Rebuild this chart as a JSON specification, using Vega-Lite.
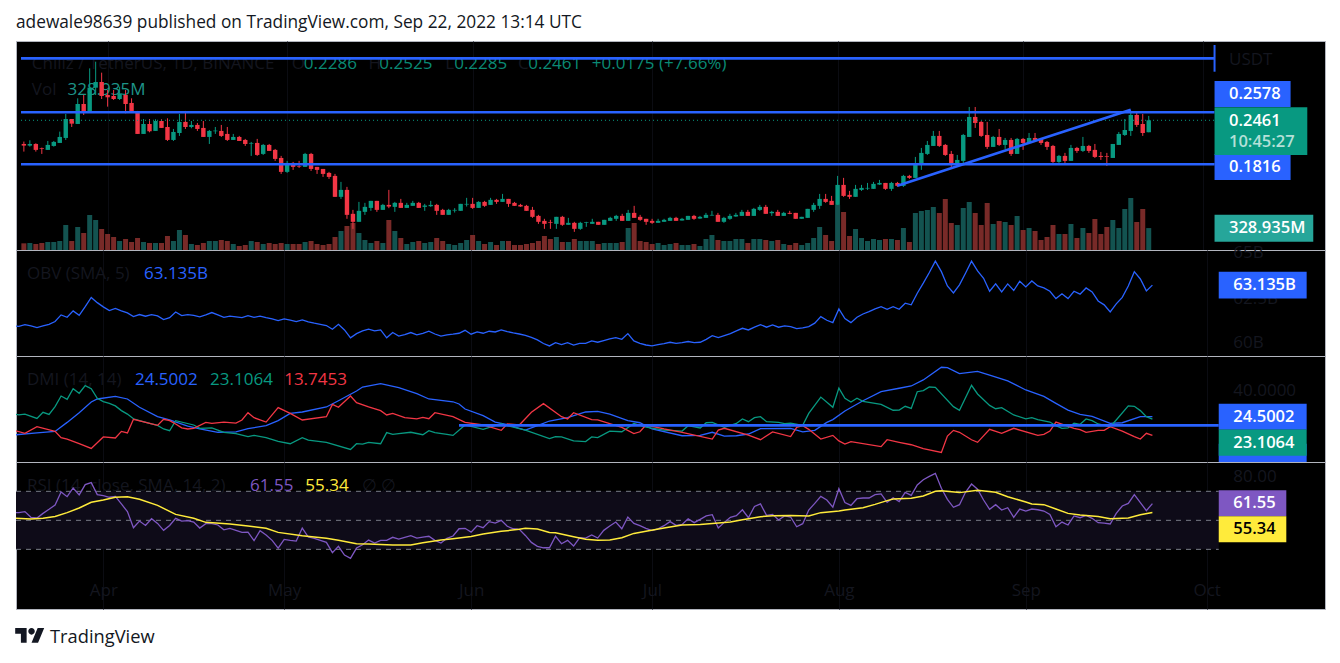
{
"$schema":"https://vega.github.io/schema/vega-lite/v6.json",
"background":"#ffffff",
"padding":{"left":15,"top":0,"right":16,"bottom":0},
"spacing":0,
"bounds":"flush",
"config":{"text":{"font":"Open Sans","fontSize":17},"axis":{"labelFont":"Open Sans"}},
"datasets":{
"daily":[
{"d":"2022-03-17","b":60.91,"r":55.3},
{"d":"2022-03-18","o":0.2114,"h":0.2149,"l":0.2002,"c":0.2090,"v":100,"b":60.89,"r":55.3},
{"d":"2022-03-19","o":0.2090,"h":0.2168,"l":0.2075,"c":0.2114,"v":105,"b":60.98,"r":56.0},
{"d":"2022-03-20","o":0.2114,"h":0.2124,"l":0.2002,"c":0.2027,"v":90,"b":60.91,"r":52.1},
{"d":"2022-03-21","o":0.2051,"h":0.2061,"l":0.1968,"c":0.2041,"v":105,"b":60.82,"r":51.6},
{"d":"2022-03-22","o":0.2027,"h":0.2158,"l":0.2027,"c":0.2100,"v":120,"b":60.91,"r":54.8},
{"d":"2022-03-23","o":0.2085,"h":0.2158,"l":0.2075,"c":0.2144,"v":120,"b":61.00,"r":57.6},
{"d":"2022-03-24","o":0.2129,"h":0.2295,"l":0.2129,"c":0.2217,"v":135,"b":61.15,"r":60.6},
{"d":"2022-03-25","o":0.2202,"h":0.2554,"l":0.2173,"c":0.2480,"v":375,"b":61.51,"r":69.5},
{"d":"2022-03-26","o":0.2480,"h":0.2480,"l":0.2363,"c":0.2412,"v":135,"b":61.38,"r":66.3},
{"d":"2022-03-27","o":0.2407,"h":0.2783,"l":0.2407,"c":0.2700,"v":345,"b":61.73,"r":72.3},
{"d":"2022-03-28","o":0.2700,"h":0.2832,"l":0.2539,"c":0.2588,"v":255,"b":61.49,"r":67.5},
{"d":"2022-03-29","o":0.2588,"h":0.3222,"l":0.2588,"c":0.2939,"v":525,"b":61.96,"r":74.6},
{"d":"2022-03-30","o":0.2939,"h":0.3320,"l":0.2832,"c":0.3022,"v":450,"b":62.46,"r":76.0},
{"d":"2022-03-31","o":0.3022,"h":0.3159,"l":0.2773,"c":0.2817,"v":315,"b":62.18,"r":67.7},
{"d":"2022-04-01","o":0.2832,"h":0.2905,"l":0.2661,"c":0.2798,"v":240,"b":61.95,"r":67.0},
{"d":"2022-04-02","o":0.2817,"h":0.2905,"l":0.2759,"c":0.2773,"v":195,"b":61.75,"r":65.9},
{"d":"2022-04-03","o":0.2773,"h":0.2954,"l":0.2759,"c":0.2856,"v":135,"b":61.86,"r":66.5},
{"d":"2022-04-04","o":0.2832,"h":0.2905,"l":0.2563,"c":0.2700,"v":165,"b":61.73,"r":61.3},
{"d":"2022-04-05","o":0.2715,"h":0.2783,"l":0.2588,"c":0.2588,"v":120,"b":61.62,"r":56.0},
{"d":"2022-04-06","o":0.2593,"h":0.2598,"l":0.2261,"c":0.2261,"v":180,"b":61.42,"r":44.9},
{"d":"2022-04-07","o":0.2261,"h":0.2480,"l":0.2261,"c":0.2407,"v":120,"b":61.53,"r":49.5},
{"d":"2022-04-08","o":0.2407,"h":0.2480,"l":0.2285,"c":0.2300,"v":105,"b":61.44,"r":46.5},
{"d":"2022-04-09","o":0.2305,"h":0.2476,"l":0.2305,"c":0.2451,"v":105,"b":61.53,"r":51.1},
{"d":"2022-04-10","o":0.2451,"h":0.2476,"l":0.2349,"c":0.2349,"v":105,"b":61.46,"r":47.9},
{"d":"2022-04-11","o":0.2363,"h":0.2490,"l":0.2158,"c":0.2173,"v":210,"b":61.26,"r":43.1},
{"d":"2022-04-12","o":0.2173,"h":0.2334,"l":0.2158,"c":0.2290,"v":135,"b":61.36,"r":46.5},
{"d":"2022-04-13","o":0.2275,"h":0.2554,"l":0.2232,"c":0.2437,"v":300,"b":61.67,"r":51.4},
{"d":"2022-04-14","o":0.2437,"h":0.2598,"l":0.2334,"c":0.2363,"v":225,"b":61.47,"r":49.5},
{"d":"2022-04-15","o":0.2363,"h":0.2451,"l":0.2344,"c":0.2393,"v":90,"b":61.53,"r":49.8},
{"d":"2022-04-16","o":0.2393,"h":0.2422,"l":0.2305,"c":0.2334,"v":75,"b":61.49,"r":48.8},
{"d":"2022-04-17","o":0.2349,"h":0.2451,"l":0.2217,"c":0.2217,"v":105,"b":61.40,"r":44.7},
{"d":"2022-04-18","o":0.2217,"h":0.2319,"l":0.2114,"c":0.2305,"v":135,"b":61.51,"r":47.7},
{"d":"2022-04-19","o":0.2300,"h":0.2363,"l":0.2261,"c":0.2310,"v":135,"b":61.64,"r":47.7},
{"d":"2022-04-20","o":0.2305,"h":0.2393,"l":0.2217,"c":0.2232,"v":150,"b":61.51,"r":46.8},
{"d":"2022-04-21","o":0.2261,"h":0.2363,"l":0.2158,"c":0.2173,"v":135,"b":61.38,"r":43.5},
{"d":"2022-04-22","o":0.2173,"h":0.2261,"l":0.2173,"c":0.2217,"v":90,"b":61.44,"r":44.5},
{"d":"2022-04-23","o":0.2217,"h":0.2232,"l":0.2158,"c":0.2158,"v":60,"b":61.40,"r":43.1},
{"d":"2022-04-24","o":0.2173,"h":0.2188,"l":0.2085,"c":0.2114,"v":75,"b":61.36,"r":41.7},
{"d":"2022-04-25","o":0.2119,"h":0.2144,"l":0.1939,"c":0.2129,"v":135,"b":61.47,"r":41.9},
{"d":"2022-04-26","o":0.2129,"h":0.2188,"l":0.1939,"c":0.1953,"v":120,"b":61.38,"r":36.0},
{"d":"2022-04-27","o":0.1968,"h":0.2114,"l":0.1953,"c":0.2100,"v":90,"b":61.44,"r":42.9},
{"d":"2022-04-28","o":0.2100,"h":0.2114,"l":0.2012,"c":0.2012,"v":105,"b":61.36,"r":39.9},
{"d":"2022-04-29","o":0.2027,"h":0.2041,"l":0.1866,"c":0.1895,"v":90,"b":61.29,"r":36.2},
{"d":"2022-04-30","o":0.1909,"h":0.1939,"l":0.1675,"c":0.1705,"v":105,"b":61.20,"r":30.9},
{"d":"2022-05-01","o":0.1705,"h":0.1866,"l":0.1690,"c":0.1836,"v":90,"b":61.29,"r":36.9},
{"d":"2022-05-02","o":0.1836,"h":0.1851,"l":0.1734,"c":0.1778,"v":90,"b":61.22,"r":36.2},
{"d":"2022-05-03","o":0.1787,"h":0.1866,"l":0.1763,"c":0.1778,"v":90,"b":61.15,"r":35.7},
{"d":"2022-05-04","o":0.1778,"h":0.1983,"l":0.1778,"c":0.1968,"v":120,"b":61.24,"r":44.7},
{"d":"2022-05-05","o":0.1968,"h":0.1983,"l":0.1719,"c":0.1748,"v":135,"b":61.13,"r":38.5},
{"d":"2022-05-06","o":0.1778,"h":0.1778,"l":0.1675,"c":0.1734,"v":90,"b":61.06,"r":37.6},
{"d":"2022-05-07","o":0.1748,"h":0.1748,"l":0.1631,"c":0.1675,"v":75,"b":61.00,"r":36.2},
{"d":"2022-05-08","o":0.1690,"h":0.1705,"l":0.1602,"c":0.1631,"v":90,"b":60.93,"r":34.8},
{"d":"2022-05-09","o":0.1646,"h":0.1675,"l":0.1339,"c":0.1339,"v":195,"b":60.73,"r":27.7},
{"d":"2022-05-10","o":0.1339,"h":0.1558,"l":0.1309,"c":0.1441,"v":285,"b":61.00,"r":32.1},
{"d":"2022-05-11","o":0.1441,"h":0.1485,"l":0.1017,"c":0.1075,"v":360,"b":60.69,"r":26.1},
{"d":"2022-05-12","o":0.1090,"h":0.1148,"l":0.0870,"c":0.0973,"v":405,"b":60.26,"r":23.8},
{"d":"2022-05-13","o":0.0973,"h":0.1265,"l":0.0973,"c":0.1134,"v":255,"b":60.49,"r":30.9},
{"d":"2022-05-14","o":0.1119,"h":0.1251,"l":0.1075,"c":0.1192,"v":150,"b":60.64,"r":33.2},
{"d":"2022-05-15","o":0.1177,"h":0.1280,"l":0.1134,"c":0.1280,"v":105,"b":60.73,"r":36.4},
{"d":"2022-05-16","o":0.1280,"h":0.1280,"l":0.1119,"c":0.1148,"v":135,"b":60.64,"r":34.4},
{"d":"2022-05-17","o":0.1148,"h":0.1236,"l":0.1148,"c":0.1221,"v":105,"b":60.69,"r":36.2},
{"d":"2022-05-18","o":0.1221,"h":0.1441,"l":0.1173,"c":0.1197,"v":450,"b":60.26,"r":36.2},
{"d":"2022-05-19","o":0.1192,"h":0.1265,"l":0.1119,"c":0.1251,"v":285,"b":60.55,"r":38.3},
{"d":"2022-05-20","o":0.1251,"h":0.1309,"l":0.1177,"c":0.1177,"v":180,"b":60.36,"r":37.1},
{"d":"2022-05-21","o":0.1177,"h":0.1251,"l":0.1177,"c":0.1221,"v":90,"b":60.44,"r":38.3},
{"d":"2022-05-22","o":0.1207,"h":0.1280,"l":0.1207,"c":0.1251,"v":120,"b":60.55,"r":39.4},
{"d":"2022-05-23","o":0.1251,"h":0.1265,"l":0.1177,"c":0.1177,"v":135,"b":60.42,"r":37.8},
{"d":"2022-05-24","o":0.1192,"h":0.1236,"l":0.1134,"c":0.1212,"v":105,"b":60.51,"r":38.5},
{"d":"2022-05-25","o":0.1202,"h":0.1280,"l":0.1192,"c":0.1221,"v":120,"b":60.62,"r":39.0},
{"d":"2022-05-26","o":0.1221,"h":0.1236,"l":0.1075,"c":0.1134,"v":180,"b":60.47,"r":36.2},
{"d":"2022-05-27","o":0.1148,"h":0.1163,"l":0.1075,"c":0.1075,"v":135,"b":60.35,"r":34.4},
{"d":"2022-05-28","o":0.1075,"h":0.1163,"l":0.1075,"c":0.1148,"v":90,"b":60.42,"r":37.6},
{"d":"2022-05-29","o":0.1138,"h":0.1173,"l":0.1109,"c":0.1148,"v":75,"b":60.46,"r":39.2},
{"d":"2022-05-30","o":0.1134,"h":0.1236,"l":0.1134,"c":0.1236,"v":105,"b":60.51,"r":44.2},
{"d":"2022-05-31","o":0.1226,"h":0.1324,"l":0.1197,"c":0.1236,"v":150,"b":60.67,"r":44.5},
{"d":"2022-06-01","o":0.1236,"h":0.1324,"l":0.1163,"c":0.1177,"v":225,"b":60.46,"r":41.9},
{"d":"2022-06-02","o":0.1177,"h":0.1275,"l":0.1177,"c":0.1265,"v":135,"b":60.58,"r":46.3},
{"d":"2022-06-03","o":0.1265,"h":0.1280,"l":0.1192,"c":0.1207,"v":90,"b":60.51,"r":44.9},
{"d":"2022-06-04","o":0.1221,"h":0.1324,"l":0.1221,"c":0.1295,"v":120,"b":60.62,"r":49.1},
{"d":"2022-06-05","o":0.1295,"h":0.1309,"l":0.1236,"c":0.1265,"v":75,"b":60.58,"r":48.1},
{"d":"2022-06-06","o":0.1265,"h":0.1382,"l":0.1265,"c":0.1309,"v":135,"b":60.69,"r":50.0},
{"d":"2022-06-07","o":0.1309,"h":0.1309,"l":0.1192,"c":0.1236,"v":135,"b":60.60,"r":45.9},
{"d":"2022-06-08","o":0.1251,"h":0.1265,"l":0.1207,"c":0.1207,"v":75,"b":60.53,"r":44.2},
{"d":"2022-06-09","o":0.1221,"h":0.1236,"l":0.1192,"c":0.1197,"v":75,"b":60.47,"r":43.8},
{"d":"2022-06-10","o":0.1207,"h":0.1221,"l":0.1134,"c":0.1134,"v":90,"b":60.40,"r":39.6},
{"d":"2022-06-11","o":0.1148,"h":0.1192,"l":0.1031,"c":0.1046,"v":105,"b":60.29,"r":34.8},
{"d":"2022-06-12","o":0.1060,"h":0.1075,"l":0.0943,"c":0.0973,"v":135,"b":60.15,"r":32.1},
{"d":"2022-06-13","o":0.0987,"h":0.1017,"l":0.0870,"c":0.0943,"v":210,"b":59.95,"r":31.1},
{"d":"2022-06-14","o":0.0968,"h":0.1002,"l":0.0870,"c":0.0958,"v":165,"b":59.82,"r":31.1},
{"d":"2022-06-15","o":0.0943,"h":0.1046,"l":0.0870,"c":0.1046,"v":195,"b":60.00,"r":39.0},
{"d":"2022-06-16","o":0.1046,"h":0.1060,"l":0.0914,"c":0.0929,"v":120,"b":59.89,"r":33.9},
{"d":"2022-06-17","o":0.0929,"h":0.1031,"l":0.0929,"c":0.0958,"v":120,"b":60.00,"r":36.2},
{"d":"2022-06-18","o":0.0958,"h":0.0973,"l":0.0826,"c":0.0870,"v":165,"b":59.86,"r":32.3},
{"d":"2022-06-19","o":0.0870,"h":0.0973,"l":0.0855,"c":0.0958,"v":135,"b":59.96,"r":38.0},
{"d":"2022-06-20","o":0.0958,"h":0.0973,"l":0.0899,"c":0.0968,"v":135,"b":59.96,"r":37.8},
{"d":"2022-06-21","o":0.0943,"h":0.1017,"l":0.0943,"c":0.0973,"v":135,"b":60.09,"r":39.9},
{"d":"2022-06-22","o":0.0973,"h":0.0973,"l":0.0929,"c":0.0929,"v":90,"b":60.02,"r":37.8},
{"d":"2022-06-23","o":0.0929,"h":0.1002,"l":0.0929,"c":0.1002,"v":105,"b":60.11,"r":43.1},
{"d":"2022-06-24","o":0.0987,"h":0.1046,"l":0.0987,"c":0.1031,"v":105,"b":60.20,"r":46.1},
{"d":"2022-06-25","o":0.1017,"h":0.1075,"l":0.0987,"c":0.1060,"v":105,"b":60.27,"r":48.8},
{"d":"2022-06-26","o":0.1060,"h":0.1090,"l":0.0987,"c":0.0987,"v":120,"b":60.18,"r":44.2},
{"d":"2022-06-27","o":0.0987,"h":0.1148,"l":0.0987,"c":0.1104,"v":330,"b":60.49,"r":52.3},
{"d":"2022-06-28","o":0.1104,"h":0.1207,"l":0.1031,"c":0.1031,"v":405,"b":60.09,"r":47.9},
{"d":"2022-06-29","o":0.1046,"h":0.1075,"l":0.0987,"c":0.1002,"v":135,"b":59.96,"r":46.3},
{"d":"2022-06-30","o":0.1017,"h":0.1017,"l":0.0929,"c":0.0973,"v":120,"b":59.87,"r":44.5},
{"d":"2022-07-01","o":0.0987,"h":0.1017,"l":0.0943,"c":0.0958,"v":90,"b":59.82,"r":42.9},
{"d":"2022-07-02","o":0.0958,"h":0.1017,"l":0.0958,"c":0.0987,"v":105,"b":59.89,"r":44.2},
{"d":"2022-07-03","o":0.0973,"h":0.1017,"l":0.0973,"c":0.1002,"v":75,"b":59.95,"r":46.3},
{"d":"2022-07-04","o":0.0987,"h":0.1046,"l":0.0987,"c":0.1031,"v":90,"b":60.02,"r":49.1},
{"d":"2022-07-05","o":0.1031,"h":0.1046,"l":0.0987,"c":0.0987,"v":105,"b":59.96,"r":46.5},
{"d":"2022-07-06","o":0.0992,"h":0.1031,"l":0.0992,"c":0.1017,"v":75,"b":60.00,"r":47.2},
{"d":"2022-07-07","o":0.1002,"h":0.1060,"l":0.1002,"c":0.1060,"v":75,"b":60.06,"r":51.1},
{"d":"2022-07-08","o":0.1060,"h":0.1075,"l":0.1002,"c":0.1017,"v":90,"b":60.00,"r":48.4},
{"d":"2022-07-09","o":0.1021,"h":0.1060,"l":0.1017,"c":0.1046,"v":60,"b":60.02,"r":50.7},
{"d":"2022-07-10","o":0.1031,"h":0.1104,"l":0.1031,"c":0.1075,"v":165,"b":60.18,"r":53.0},
{"d":"2022-07-11","o":0.1065,"h":0.1134,"l":0.1065,"c":0.1075,"v":225,"b":60.38,"r":53.9},
{"d":"2022-07-12","o":0.1075,"h":0.1104,"l":0.0973,"c":0.0973,"v":150,"b":60.27,"r":44.7},
{"d":"2022-07-13","o":0.0973,"h":0.1046,"l":0.0958,"c":0.1031,"v":135,"b":60.38,"r":48.6},
{"d":"2022-07-14","o":0.1017,"h":0.1090,"l":0.1002,"c":0.1060,"v":135,"b":60.49,"r":52.1},
{"d":"2022-07-15","o":0.1051,"h":0.1104,"l":0.1046,"c":0.1075,"v":165,"b":60.64,"r":53.2},
{"d":"2022-07-16","o":0.1060,"h":0.1148,"l":0.1060,"c":0.1119,"v":165,"b":60.78,"r":57.3},
{"d":"2022-07-17","o":0.1119,"h":0.1148,"l":0.1060,"c":0.1060,"v":105,"b":60.69,"r":51.8},
{"d":"2022-07-18","o":0.1060,"h":0.1177,"l":0.1060,"c":0.1163,"v":165,"b":60.84,"r":59.6},
{"d":"2022-07-19","o":0.1148,"h":0.1221,"l":0.1134,"c":0.1192,"v":165,"b":60.98,"r":61.3},
{"d":"2022-07-20","o":0.1192,"h":0.1221,"l":0.1090,"c":0.1090,"v":150,"b":60.84,"r":53.4},
{"d":"2022-07-21","o":0.1099,"h":0.1134,"l":0.1060,"c":0.1119,"v":135,"b":60.96,"r":54.1},
{"d":"2022-07-22","o":0.1119,"h":0.1148,"l":0.1060,"c":0.1060,"v":150,"b":60.84,"r":50.2},
{"d":"2022-07-23","o":0.1060,"h":0.1119,"l":0.1060,"c":0.1104,"v":90,"b":60.91,"r":53.0},
{"d":"2022-07-24","o":0.1104,"h":0.1134,"l":0.1085,"c":0.1090,"v":75,"b":60.87,"r":52.3},
{"d":"2022-07-25","o":0.1104,"h":0.1104,"l":0.1017,"c":0.1017,"v":105,"b":60.76,"r":45.6},
{"d":"2022-07-26","o":0.1017,"h":0.1046,"l":0.1017,"c":0.1046,"v":75,"b":60.80,"r":47.7},
{"d":"2022-07-27","o":0.1031,"h":0.1163,"l":0.1031,"c":0.1163,"v":105,"b":60.87,"r":57.1},
{"d":"2022-07-28","o":0.1148,"h":0.1251,"l":0.1119,"c":0.1221,"v":180,"b":61.06,"r":61.7},
{"d":"2022-07-29","o":0.1207,"h":0.1382,"l":0.1163,"c":0.1309,"v":345,"b":61.42,"r":66.5},
{"d":"2022-07-30","o":0.1309,"h":0.1382,"l":0.1251,"c":0.1265,"v":225,"b":61.22,"r":64.0},
{"d":"2022-07-31","o":0.1280,"h":0.1353,"l":0.1221,"c":0.1221,"v":135,"b":61.09,"r":59.0},
{"d":"2022-08-01","o":0.1221,"h":0.1646,"l":0.1221,"c":0.1514,"v":675,"b":61.84,"r":71.8},
{"d":"2022-08-02","o":0.1514,"h":0.1617,"l":0.1339,"c":0.1353,"v":570,"b":61.31,"r":62.2},
{"d":"2022-08-03","o":0.1368,"h":0.1426,"l":0.1309,"c":0.1339,"v":210,"b":61.09,"r":60.3},
{"d":"2022-08-04","o":0.1339,"h":0.1514,"l":0.1339,"c":0.1456,"v":315,"b":61.38,"r":64.9},
{"d":"2022-08-05","o":0.1441,"h":0.1514,"l":0.1426,"c":0.1470,"v":180,"b":61.56,"r":65.4},
{"d":"2022-08-06","o":0.1461,"h":0.1543,"l":0.1441,"c":0.1470,"v":135,"b":61.69,"r":65.4},
{"d":"2022-08-07","o":0.1456,"h":0.1558,"l":0.1456,"c":0.1529,"v":165,"b":61.84,"r":67.7},
{"d":"2022-08-08","o":0.1519,"h":0.1587,"l":0.1514,"c":0.1543,"v":150,"b":61.96,"r":68.2},
{"d":"2022-08-09","o":0.1543,"h":0.1543,"l":0.1441,"c":0.1456,"v":165,"b":61.82,"r":62.4},
{"d":"2022-08-10","o":0.1456,"h":0.1558,"l":0.1426,"c":0.1543,"v":165,"b":61.96,"r":65.6},
{"d":"2022-08-11","o":0.1543,"h":0.1558,"l":0.1485,"c":0.1500,"v":150,"b":61.82,"r":62.9},
{"d":"2022-08-12","o":0.1500,"h":0.1661,"l":0.1485,"c":0.1646,"v":330,"b":62.15,"r":69.3},
{"d":"2022-08-13","o":0.1646,"h":0.1661,"l":0.1602,"c":0.1617,"v":120,"b":62.06,"r":67.2},
{"d":"2022-08-14","o":0.1617,"h":0.1924,"l":0.1617,"c":0.1822,"v":555,"b":62.69,"r":74.4},
{"d":"2022-08-15","o":0.1807,"h":0.2056,"l":0.1734,"c":0.1983,"v":585,"b":63.24,"r":78.0},
{"d":"2022-08-16","o":0.1968,"h":0.2158,"l":0.1953,"c":0.2100,"v":600,"b":63.82,"r":80.3},
{"d":"2022-08-17","o":0.2085,"h":0.2305,"l":0.2085,"c":0.2232,"v":645,"b":64.44,"r":82.4},
{"d":"2022-08-18","o":0.2232,"h":0.2305,"l":0.2071,"c":0.2085,"v":555,"b":63.87,"r":72.1},
{"d":"2022-08-19","o":0.2100,"h":0.2114,"l":0.1939,"c":0.1953,"v":765,"b":63.09,"r":64.5},
{"d":"2022-08-20","o":0.1968,"h":0.2012,"l":0.1748,"c":0.1822,"v":405,"b":62.71,"r":59.0},
{"d":"2022-08-21","o":0.1822,"h":0.1953,"l":0.1792,"c":0.1880,"v":375,"b":63.15,"r":60.8},
{"d":"2022-08-22","o":0.1866,"h":0.2261,"l":0.1822,"c":0.2246,"v":630,"b":63.78,"r":69.3},
{"d":"2022-08-23","o":0.2217,"h":0.2656,"l":0.2217,"c":0.2510,"v":720,"b":64.44,"r":75.0},
{"d":"2022-08-24","o":0.2510,"h":0.2656,"l":0.2349,"c":0.2422,"v":555,"b":63.91,"r":71.4},
{"d":"2022-08-25","o":0.2437,"h":0.2451,"l":0.2217,"c":0.2232,"v":375,"b":63.51,"r":64.0},
{"d":"2022-08-26","o":0.2246,"h":0.2437,"l":0.2041,"c":0.2071,"v":705,"b":62.80,"r":57.6},
{"d":"2022-08-27","o":0.2071,"h":0.2232,"l":0.2071,"c":0.2217,"v":390,"b":63.20,"r":60.8},
{"d":"2022-08-28","o":0.2217,"h":0.2334,"l":0.2085,"c":0.2100,"v":435,"b":62.76,"r":57.1},
{"d":"2022-08-29","o":0.2100,"h":0.2202,"l":0.2041,"c":0.2173,"v":420,"b":63.20,"r":58.7},
{"d":"2022-08-30","o":0.2173,"h":0.2202,"l":0.1939,"c":0.1968,"v":375,"b":62.84,"r":52.1},
{"d":"2022-08-31","o":0.1968,"h":0.2202,"l":0.1968,"c":0.2188,"v":510,"b":63.35,"r":57.8},
{"d":"2022-09-01","o":0.2188,"h":0.2202,"l":0.2027,"c":0.2129,"v":300,"b":63.04,"r":56.4},
{"d":"2022-09-02","o":0.2129,"h":0.2275,"l":0.2129,"c":0.2202,"v":330,"b":63.36,"r":57.8},
{"d":"2022-09-03","o":0.2202,"h":0.2275,"l":0.2144,"c":0.2173,"v":285,"b":63.09,"r":57.3},
{"d":"2022-09-04","o":0.2188,"h":0.2202,"l":0.2100,"c":0.2129,"v":150,"b":62.98,"r":56.4},
{"d":"2022-09-05","o":0.2144,"h":0.2158,"l":0.2027,"c":0.2071,"v":195,"b":62.80,"r":54.1},
{"d":"2022-09-06","o":0.2085,"h":0.2100,"l":0.1836,"c":0.1851,"v":375,"b":62.40,"r":45.6},
{"d":"2022-09-07","o":0.1851,"h":0.1953,"l":0.1836,"c":0.1939,"v":240,"b":62.66,"r":48.8},
{"d":"2022-09-08","o":0.1939,"h":0.1983,"l":0.1836,"c":0.1866,"v":240,"b":62.40,"r":46.8},
{"d":"2022-09-09","o":0.1866,"h":0.2100,"l":0.1866,"c":0.2056,"v":390,"b":62.80,"r":53.0},
{"d":"2022-09-10","o":0.2056,"h":0.2071,"l":0.1983,"c":0.2012,"v":180,"b":62.64,"r":51.8},
{"d":"2022-09-11","o":0.2012,"h":0.2217,"l":0.1997,"c":0.2085,"v":330,"b":62.98,"r":53.4},
{"d":"2022-09-12","o":0.2085,"h":0.2100,"l":0.1983,"c":0.2012,"v":255,"b":62.76,"r":51.4},
{"d":"2022-09-13","o":0.2027,"h":0.2114,"l":0.1909,"c":0.1924,"v":465,"b":62.27,"r":48.4},
{"d":"2022-09-14","o":0.1939,"h":0.1997,"l":0.1880,"c":0.1924,"v":240,"b":62.06,"r":48.1},
{"d":"2022-09-15","o":0.1934,"h":0.1983,"l":0.1792,"c":0.1924,"v":345,"b":61.67,"r":47.5},
{"d":"2022-09-16","o":0.1909,"h":0.2114,"l":0.1909,"c":0.2114,"v":450,"b":62.11,"r":54.8},
{"d":"2022-09-17","o":0.2100,"h":0.2290,"l":0.2100,"c":0.2261,"v":330,"b":62.47,"r":59.9},
{"d":"2022-09-18","o":0.2246,"h":0.2480,"l":0.2232,"c":0.2319,"v":615,"b":63.09,"r":61.7},
{"d":"2022-09-19","o":0.2305,"h":0.2598,"l":0.2232,"c":0.2539,"v":780,"b":63.87,"r":67.7},
{"d":"2022-09-20","o":0.2539,"h":0.2583,"l":0.2363,"c":0.2393,"v":420,"b":63.47,"r":62.2},
{"d":"2022-09-21","o":0.2407,"h":0.2554,"l":0.2232,"c":0.2275,"v":615,"b":62.82,"r":56.7},
{"d":"2022-09-22","o":0.2286,"h":0.2525,"l":0.2285,"c":0.2461,"v":328.935,"b":63.135,"r":61.55}
],
"rsima":[
{"d":"2022-03-17","m":51.6},{"d":"2022-03-20","m":50.9},{"d":"2022-03-22","m":51.4},{"d":"2022-03-24","m":52.7},{"d":"2022-03-26","m":55.3},{"d":"2022-03-28","m":58.5},{"d":"2022-03-30","m":62.4},{"d":"2022-04-01","m":64.0},{"d":"2022-04-03","m":65.9},{"d":"2022-04-05","m":66.3},{"d":"2022-04-07","m":64.5},{"d":"2022-04-10","m":60.3},{"d":"2022-04-13","m":54.1},{"d":"2022-04-16","m":51.4},{"d":"2022-04-18","m":48.6},{"d":"2022-04-22","m":47.5},{"d":"2022-04-25","m":46.1},{"d":"2022-04-28","m":44.5},{"d":"2022-04-30","m":41.7},{"d":"2022-05-04","m":39.4},{"d":"2022-05-08","m":37.6},{"d":"2022-05-10","m":36.2},{"d":"2022-05-13","m":33.9},{"d":"2022-05-15","m":33.7},{"d":"2022-05-19","m":33.0},{"d":"2022-05-22","m":33.0},{"d":"2022-05-24","m":34.6},{"d":"2022-05-27","m":36.4},{"d":"2022-05-29","m":37.3},{"d":"2022-06-01","m":38.9},{"d":"2022-06-03","m":40.6},{"d":"2022-06-06","m":42.4},{"d":"2022-06-09","m":43.8},{"d":"2022-06-10","m":44.5},{"d":"2022-06-12","m":44.0},{"d":"2022-06-14","m":41.7},{"d":"2022-06-15","m":41.5},{"d":"2022-06-18","m":38.7},{"d":"2022-06-20","m":36.9},{"d":"2022-06-22","m":36.2},{"d":"2022-06-24","m":36.4},{"d":"2022-06-26","m":38.0},{"d":"2022-06-28","m":41.0},{"d":"2022-06-30","m":42.4},{"d":"2022-07-03","m":44.7},{"d":"2022-07-06","m":46.8},{"d":"2022-07-09","m":47.2},{"d":"2022-07-12","m":48.1},{"d":"2022-07-14","m":48.8},{"d":"2022-07-16","m":50.4},{"d":"2022-07-19","m":52.5},{"d":"2022-07-21","m":53.2},{"d":"2022-07-24","m":53.4},{"d":"2022-07-27","m":53.0},{"d":"2022-07-29","m":55.3},{"d":"2022-08-01","m":56.4},{"d":"2022-08-02","m":57.1},{"d":"2022-08-05","m":58.7},{"d":"2022-08-07","m":61.0},{"d":"2022-08-09","m":63.6},{"d":"2022-08-10","m":64.7},{"d":"2022-08-13","m":65.2},{"d":"2022-08-15","m":66.8},{"d":"2022-08-17","m":70.0},{"d":"2022-08-18","m":70.4},{"d":"2022-08-21","m":69.1},{"d":"2022-08-24","m":70.7},{"d":"2022-08-27","m":69.3},{"d":"2022-08-29","m":66.3},{"d":"2022-09-01","m":62.6},{"d":"2022-09-02","m":61.3},{"d":"2022-09-04","m":60.8},{"d":"2022-09-06","m":57.8},{"d":"2022-09-08","m":54.8},{"d":"2022-09-10","m":53.7},{"d":"2022-09-13","m":52.7},{"d":"2022-09-15","m":51.1},{"d":"2022-09-18","m":51.6},{"d":"2022-09-20","m":53.9},{"d":"2022-09-22","m":55.34}
],
"dmi":[
{"s":"+DI","d":"2022-03-17","x":13.9},{"s":"+DI","d":"2022-03-21","x":15.1},{"s":"+DI","d":"2022-03-24","x":16.0},{"s":"+DI","d":"2022-03-26","x":21.2},{"s":"+DI","d":"2022-03-28","x":26.8},{"s":"+DI","d":"2022-03-30","x":33.0},{"s":"+DI","d":"2022-03-31","x":34.7},{"s":"+DI","d":"2022-04-03","x":36.2},{"s":"+DI","d":"2022-04-05","x":34.7},{"s":"+DI","d":"2022-04-07","x":29.9},{"s":"+DI","d":"2022-04-10","x":24.5},{"s":"+DI","d":"2022-04-12","x":22.6},{"s":"+DI","d":"2022-04-15","x":19.1},{"s":"+DI","d":"2022-04-17","x":17.4},{"s":"+DI","d":"2022-04-20","x":15.5},{"s":"+DI","d":"2022-04-23","x":15.7},{"s":"+DI","d":"2022-04-25","x":17.6},{"s":"+DI","d":"2022-04-28","x":19.3},{"s":"+DI","d":"2022-04-30","x":22.2},{"s":"+DI","d":"2022-05-02","x":26.4},{"s":"+DI","d":"2022-05-04","x":27.2},{"s":"+DI","d":"2022-05-08","x":30.1},{"s":"+DI","d":"2022-05-10","x":33.7},{"s":"+DI","d":"2022-05-13","x":39.3},{"s":"+DI","d":"2022-05-14","x":41.6},{"s":"+DI","d":"2022-05-17","x":43.5},{"s":"+DI","d":"2022-05-20","x":41.2},{"s":"+DI","d":"2022-05-23","x":37.8},{"s":"+DI","d":"2022-05-25","x":34.7},{"s":"+DI","d":"2022-05-29","x":33.1},{"s":"+DI","d":"2022-05-30","x":31.8},{"s":"+DI","d":"2022-05-31","x":28.9},{"s":"+DI","d":"2022-06-03","x":25.1},{"s":"+DI","d":"2022-06-05","x":21.4},{"s":"+DI","d":"2022-06-07","x":19.9},{"s":"+DI","d":"2022-06-09","x":17.8},{"s":"+DI","d":"2022-06-10","x":16.8},{"s":"+DI","d":"2022-06-12","x":19.3},{"s":"+DI","d":"2022-06-14","x":22.0},{"s":"+DI","d":"2022-06-17","x":23.9},{"s":"+DI","d":"2022-06-20","x":27.2},{"s":"+DI","d":"2022-06-22","x":27.6},{"s":"+DI","d":"2022-06-24","x":26.0},{"s":"+DI","d":"2022-06-27","x":22.2},{"s":"+DI","d":"2022-06-29","x":21.0},{"s":"+DI","d":"2022-07-01","x":17.4},{"s":"+DI","d":"2022-07-06","x":13.5},{"s":"+DI","d":"2022-07-09","x":13.7},{"s":"+DI","d":"2022-07-11","x":15.5},{"s":"+DI","d":"2022-07-13","x":13.3},{"s":"+DI","d":"2022-07-15","x":13.5},{"s":"+DI","d":"2022-07-17","x":14.5},{"s":"+DI","d":"2022-07-19","x":17.6},{"s":"+DI","d":"2022-07-24","x":17.8},{"s":"+DI","d":"2022-07-26","x":15.7},{"s":"+DI","d":"2022-07-28","x":16.6},{"s":"+DI","d":"2022-07-30","x":21.2},{"s":"+DI","d":"2022-07-31","x":22.8},{"s":"+DI","d":"2022-08-02","x":27.8},{"s":"+DI","d":"2022-08-05","x":33.7},{"s":"+DI","d":"2022-08-08","x":38.9},{"s":"+DI","d":"2022-08-11","x":40.9},{"s":"+DI","d":"2022-08-13","x":42.2},{"s":"+DI","d":"2022-08-15","x":45.7},{"s":"+DI","d":"2022-08-18","x":53.0},{"s":"+DI","d":"2022-08-19","x":52.8},{"s":"+DI","d":"2022-08-21","x":49.3},{"s":"+DI","d":"2022-08-24","x":50.6},{"s":"+DI","d":"2022-08-26","x":48.5},{"s":"+DI","d":"2022-08-29","x":45.1},{"s":"+DI","d":"2022-09-01","x":39.9},{"s":"+DI","d":"2022-09-04","x":36.2},{"s":"+DI","d":"2022-09-06","x":32.2},{"s":"+DI","d":"2022-09-08","x":28.3},{"s":"+DI","d":"2022-09-10","x":25.8},{"s":"+DI","d":"2022-09-12","x":24.7},{"s":"+DI","d":"2022-09-15","x":20.6},{"s":"+DI","d":"2022-09-17","x":21.0},{"s":"+DI","d":"2022-09-20","x":24.5},{"s":"+DI","d":"2022-09-22","x":24.5002},
{"s":"-DI","d":"2022-03-17","x":26.2},{"s":"-DI","d":"2022-03-18","x":25.5},{"s":"-DI","d":"2022-03-19","x":26.0},{"s":"-DI","d":"2022-03-21","x":23.5},{"s":"-DI","d":"2022-03-22","x":27.0},{"s":"-DI","d":"2022-03-23","x":25.8},{"s":"-DI","d":"2022-03-24","x":30.3},{"s":"-DI","d":"2022-03-25","x":36.4},{"s":"-DI","d":"2022-03-26","x":34.5},{"s":"-DI","d":"2022-03-27","x":40.6},{"s":"-DI","d":"2022-03-28","x":38.0},{"s":"-DI","d":"2022-03-29","x":42.4},{"s":"-DI","d":"2022-03-30","x":40.6},{"s":"-DI","d":"2022-03-31","x":35.1},{"s":"-DI","d":"2022-04-01","x":33.2},{"s":"-DI","d":"2022-04-02","x":32.2},{"s":"-DI","d":"2022-04-03","x":30.7},{"s":"-DI","d":"2022-04-04","x":28.0},{"s":"-DI","d":"2022-04-05","x":26.0},{"s":"-DI","d":"2022-04-06","x":23.3},{"s":"-DI","d":"2022-04-07","x":22.2},{"s":"-DI","d":"2022-04-09","x":20.3},{"s":"-DI","d":"2022-04-10","x":19.5},{"s":"-DI","d":"2022-04-11","x":17.4},{"s":"-DI","d":"2022-04-12","x":16.4},{"s":"-DI","d":"2022-04-13","x":22.2},{"s":"-DI","d":"2022-04-16","x":19.7},{"s":"-DI","d":"2022-04-17","x":17.8},{"s":"-DI","d":"2022-04-19","x":18.0},{"s":"-DI","d":"2022-04-21","x":15.5},{"s":"-DI","d":"2022-04-23","x":14.7},{"s":"-DI","d":"2022-04-25","x":13.0},{"s":"-DI","d":"2022-04-26","x":13.7},{"s":"-DI","d":"2022-04-28","x":12.4},{"s":"-DI","d":"2022-04-30","x":10.3},{"s":"-DI","d":"2022-05-02","x":8.9},{"s":"-DI","d":"2022-05-04","x":12.4},{"s":"-DI","d":"2022-05-05","x":11.0},{"s":"-DI","d":"2022-05-08","x":9.7},{"s":"-DI","d":"2022-05-12","x":5.6},{"s":"-DI","d":"2022-05-13","x":8.9},{"s":"-DI","d":"2022-05-14","x":8.7},{"s":"-DI","d":"2022-05-15","x":9.7},{"s":"-DI","d":"2022-05-17","x":8.9},{"s":"-DI","d":"2022-05-18","x":15.3},{"s":"-DI","d":"2022-05-19","x":14.3},{"s":"-DI","d":"2022-05-20","x":14.7},{"s":"-DI","d":"2022-05-22","x":15.5},{"s":"-DI","d":"2022-05-24","x":14.1},{"s":"-DI","d":"2022-05-25","x":16.4},{"s":"-DI","d":"2022-05-26","x":15.3},{"s":"-DI","d":"2022-05-28","x":14.3},{"s":"-DI","d":"2022-05-29","x":13.7},{"s":"-DI","d":"2022-05-31","x":19.7},{"s":"-DI","d":"2022-06-03","x":17.2},{"s":"-DI","d":"2022-06-06","x":20.5},{"s":"-DI","d":"2022-06-07","x":19.3},{"s":"-DI","d":"2022-06-10","x":16.8},{"s":"-DI","d":"2022-06-14","x":11.8},{"s":"-DI","d":"2022-06-15","x":13.0},{"s":"-DI","d":"2022-06-16","x":12.8},{"s":"-DI","d":"2022-06-18","x":10.5},{"s":"-DI","d":"2022-06-20","x":10.1},{"s":"-DI","d":"2022-06-21","x":12.8},{"s":"-DI","d":"2022-06-22","x":12.4},{"s":"-DI","d":"2022-06-24","x":16.2},{"s":"-DI","d":"2022-06-26","x":15.8},{"s":"-DI","d":"2022-06-28","x":20.6},{"s":"-DI","d":"2022-06-30","x":18.5},{"s":"-DI","d":"2022-07-03","x":16.8},{"s":"-DI","d":"2022-07-06","x":16.2},{"s":"-DI","d":"2022-07-07","x":19.3},{"s":"-DI","d":"2022-07-09","x":18.0},{"s":"-DI","d":"2022-07-10","x":21.0},{"s":"-DI","d":"2022-07-11","x":21.2},{"s":"-DI","d":"2022-07-13","x":18.3},{"s":"-DI","d":"2022-07-15","x":20.6},{"s":"-DI","d":"2022-07-16","x":23.2},{"s":"-DI","d":"2022-07-17","x":21.6},{"s":"-DI","d":"2022-07-18","x":23.9},{"s":"-DI","d":"2022-07-19","x":24.5},{"s":"-DI","d":"2022-07-20","x":21.6},{"s":"-DI","d":"2022-07-22","x":21.2},{"s":"-DI","d":"2022-07-23","x":20.5},{"s":"-DI","d":"2022-07-24","x":20.8},{"s":"-DI","d":"2022-07-26","x":19.5},{"s":"-DI","d":"2022-07-27","x":26.4},{"s":"-DI","d":"2022-07-29","x":35.8},{"s":"-DI","d":"2022-07-31","x":29.9},{"s":"-DI","d":"2022-08-01","x":41.0},{"s":"-DI","d":"2022-08-02","x":35.1},{"s":"-DI","d":"2022-08-03","x":33.0},{"s":"-DI","d":"2022-08-04","x":35.1},{"s":"-DI","d":"2022-08-05","x":33.3},{"s":"-DI","d":"2022-08-08","x":31.6},{"s":"-DI","d":"2022-08-10","x":28.2},{"s":"-DI","d":"2022-08-11","x":28.3},{"s":"-DI","d":"2022-08-12","x":30.5},{"s":"-DI","d":"2022-08-13","x":29.3},{"s":"-DI","d":"2022-08-14","x":38.9},{"s":"-DI","d":"2022-08-15","x":39.5},{"s":"-DI","d":"2022-08-16","x":41.6},{"s":"-DI","d":"2022-08-17","x":41.4},{"s":"-DI","d":"2022-08-20","x":30.3},{"s":"-DI","d":"2022-08-21","x":28.2},{"s":"-DI","d":"2022-08-23","x":42.6},{"s":"-DI","d":"2022-08-24","x":37.6},{"s":"-DI","d":"2022-08-26","x":31.0},{"s":"-DI","d":"2022-08-27","x":29.1},{"s":"-DI","d":"2022-08-28","x":29.7},{"s":"-DI","d":"2022-08-30","x":25.5},{"s":"-DI","d":"2022-09-01","x":23.2},{"s":"-DI","d":"2022-09-02","x":23.9},{"s":"-DI","d":"2022-09-03","x":22.8},{"s":"-DI","d":"2022-09-05","x":21.4},{"s":"-DI","d":"2022-09-06","x":19.3},{"s":"-DI","d":"2022-09-07","x":17.8},{"s":"-DI","d":"2022-09-08","x":18.0},{"s":"-DI","d":"2022-09-09","x":20.8},{"s":"-DI","d":"2022-09-10","x":20.1},{"s":"-DI","d":"2022-09-11","x":23.2},{"s":"-DI","d":"2022-09-12","x":22.2},{"s":"-DI","d":"2022-09-13","x":20.3},{"s":"-DI","d":"2022-09-15","x":18.7},{"s":"-DI","d":"2022-09-16","x":22.6},{"s":"-DI","d":"2022-09-18","x":30.7},{"s":"-DI","d":"2022-09-19","x":30.5},{"s":"-DI","d":"2022-09-20","x":28.0},{"s":"-DI","d":"2022-09-21","x":24.5},{"s":"-DI","d":"2022-09-22","x":23.1064},
{"s":"ADX","d":"2022-03-17","x":16.8},{"s":"ADX","d":"2022-03-19","x":14.9},{"s":"ADX","d":"2022-03-21","x":18.7},{"s":"ADX","d":"2022-03-24","x":16.0},{"s":"ADX","d":"2022-03-25","x":12.4},{"s":"ADX","d":"2022-03-26","x":11.6},{"s":"ADX","d":"2022-03-28","x":8.9},{"s":"ADX","d":"2022-03-30","x":6.2},{"s":"ADX","d":"2022-04-01","x":12.8},{"s":"ADX","d":"2022-04-03","x":12.2},{"s":"ADX","d":"2022-04-04","x":16.0},{"s":"ADX","d":"2022-04-05","x":15.1},{"s":"ADX","d":"2022-04-06","x":23.0},{"s":"ADX","d":"2022-04-10","x":19.5},{"s":"ADX","d":"2022-04-11","x":23.0},{"s":"ADX","d":"2022-04-12","x":22.2},{"s":"ADX","d":"2022-04-13","x":20.3},{"s":"ADX","d":"2022-04-14","x":18.1},{"s":"ADX","d":"2022-04-15","x":17.4},{"s":"ADX","d":"2022-04-16","x":17.8},{"s":"ADX","d":"2022-04-18","x":21.2},{"s":"ADX","d":"2022-04-19","x":20.6},{"s":"ADX","d":"2022-04-21","x":21.4},{"s":"ADX","d":"2022-04-23","x":20.8},{"s":"ADX","d":"2022-04-24","x":22.6},{"s":"ADX","d":"2022-04-25","x":26.8},{"s":"ADX","d":"2022-04-26","x":23.9},{"s":"ADX","d":"2022-04-28","x":21.4},{"s":"ADX","d":"2022-04-30","x":29.7},{"s":"ADX","d":"2022-05-02","x":26.4},{"s":"ADX","d":"2022-05-04","x":22.6},{"s":"ADX","d":"2022-05-08","x":24.5},{"s":"ADX","d":"2022-05-09","x":31.6},{"s":"ADX","d":"2022-05-10","x":29.9},{"s":"ADX","d":"2022-05-12","x":36.4},{"s":"ADX","d":"2022-05-13","x":32.6},{"s":"ADX","d":"2022-05-15","x":30.1},{"s":"ADX","d":"2022-05-17","x":28.0},{"s":"ADX","d":"2022-05-18","x":25.5},{"s":"ADX","d":"2022-05-19","x":26.4},{"s":"ADX","d":"2022-05-21","x":23.9},{"s":"ADX","d":"2022-05-23","x":23.2},{"s":"ADX","d":"2022-05-24","x":24.1},{"s":"ADX","d":"2022-05-25","x":23.3},{"s":"ADX","d":"2022-05-26","x":26.8},{"s":"ADX","d":"2022-05-29","x":24.5},{"s":"ADX","d":"2022-05-31","x":21.2},{"s":"ADX","d":"2022-06-03","x":19.7},{"s":"ADX","d":"2022-06-06","x":16.6},{"s":"ADX","d":"2022-06-07","x":20.3},{"s":"ADX","d":"2022-06-09","x":19.7},{"s":"ADX","d":"2022-06-11","x":27.0},{"s":"ADX","d":"2022-06-13","x":32.0},{"s":"ADX","d":"2022-06-16","x":24.5},{"s":"ADX","d":"2022-06-17","x":23.2},{"s":"ADX","d":"2022-06-18","x":26.8},{"s":"ADX","d":"2022-06-21","x":22.8},{"s":"ADX","d":"2022-06-22","x":22.6},{"s":"ADX","d":"2022-06-26","x":18.3},{"s":"ADX","d":"2022-06-28","x":14.7},{"s":"ADX","d":"2022-06-29","x":15.8},{"s":"ADX","d":"2022-06-30","x":19.7},{"s":"ADX","d":"2022-07-03","x":17.4},{"s":"ADX","d":"2022-07-06","x":15.5},{"s":"ADX","d":"2022-07-11","x":11.6},{"s":"ADX","d":"2022-07-12","x":16.8},{"s":"ADX","d":"2022-07-13","x":17.8},{"s":"ADX","d":"2022-07-17","x":13.9},{"s":"ADX","d":"2022-07-19","x":11.2},{"s":"ADX","d":"2022-07-21","x":15.7},{"s":"ADX","d":"2022-07-24","x":13.0},{"s":"ADX","d":"2022-07-25","x":18.3},{"s":"ADX","d":"2022-07-26","x":19.3},{"s":"ADX","d":"2022-07-27","x":17.2},{"s":"ADX","d":"2022-07-29","x":11.6},{"s":"ADX","d":"2022-07-31","x":13.7},{"s":"ADX","d":"2022-08-01","x":10.5},{"s":"ADX","d":"2022-08-02","x":8.7},{"s":"ADX","d":"2022-08-03","x":10.1},{"s":"ADX","d":"2022-08-08","x":7.2},{"s":"ADX","d":"2022-08-09","x":11.2},{"s":"ADX","d":"2022-08-11","x":9.7},{"s":"ADX","d":"2022-08-13","x":8.3},{"s":"ADX","d":"2022-08-15","x":6.0},{"s":"ADX","d":"2022-08-18","x":3.9},{"s":"ADX","d":"2022-08-19","x":13.3},{"s":"ADX","d":"2022-08-20","x":16.6},{"s":"ADX","d":"2022-08-21","x":15.5},{"s":"ADX","d":"2022-08-23","x":11.2},{"s":"ADX","d":"2022-08-24","x":9.7},{"s":"ADX","d":"2022-08-26","x":17.2},{"s":"ADX","d":"2022-08-28","x":14.9},{"s":"ADX","d":"2022-08-30","x":17.8},{"s":"ADX","d":"2022-09-03","x":13.7},{"s":"ADX","d":"2022-09-04","x":14.3},{"s":"ADX","d":"2022-09-05","x":16.2},{"s":"ADX","d":"2022-09-06","x":21.4},{"s":"ADX","d":"2022-09-09","x":17.8},{"s":"ADX","d":"2022-09-10","x":17.0},{"s":"ADX","d":"2022-09-11","x":15.5},{"s":"ADX","d":"2022-09-13","x":16.6},{"s":"ADX","d":"2022-09-14","x":16.6},{"s":"ADX","d":"2022-09-15","x":18.7},{"s":"ADX","d":"2022-09-17","x":16.2},{"s":"ADX","d":"2022-09-19","x":13.0},{"s":"ADX","d":"2022-09-20","x":11.6},{"s":"ADX","d":"2022-09-21","x":14.9},{"s":"ADX","d":"2022-09-22","x":13.7453}
]
},
"vconcat":[
{
"width":1309,"height":41,"view":{"stroke":null},
"data":{"values":[{"d":"2022-03-17T12:30:00Z","p":0.44,"t":"adewale98639 published on TradingView.com, Sep 22, 2022 13:14 UTC"}]},
"mark":{"type":"text","align":"left","baseline":"middle","fontSize":17.3,"color":"#131722"},
"encoding":{
"x":{"field":"d","type":"temporal","scale":{"type":"utc","domain":["2022-03-17T12:30:00Z","2022-10-20T15:00:00Z"]},"axis":null},
"y":{"field":"p","type":"quantitative","scale":{"domain":[0,1]},"axis":null},
"text":{"field":"t"}
}
},
{
"width":1309,"height":209,"view":{"fill":"#000000","stroke":"#b2b5be"},
"encoding":{
"x":{"type":"temporal","scale":{"type":"utc","domain":["2022-03-17T12:30:00Z","2022-10-20T15:00:00Z"]},"axis":{"grid":true,"gridColor":"#0b0c12","labels":false,"ticks":false,"domain":false,"title":null,"tickCount":{"interval":"month"}}},
"y":{"type":"quantitative","scale":{"domain":[0.056,0.3623]},"axis":null}
},
"resolve":{"scale":{"y":"independent","color":"independent"}},
"layer":[
{"data":{"name":"daily"},"mark":{"type":"bar","size":5},
 "encoding":{"x":{"field":"d"},"y":{"field":"v","stack":null,"scale":{"domain":[0,3135]}},
 "color":{"condition":{"test":"datum.c>=datum.o","value":"#135350"},"value":"#782a28"}}},
{"data":{"values":[{"t":"Chiliz / TetherUS, 1D, BINANCE","d":"2022-03-19T08:00:00Z","p":0.3286,"s":"dim"},{"t":"O","d":"2022-05-01T19:00:00Z","p":0.3286,"s":"dim"},{"t":"0.2286","d":"2022-05-03T19:00:00Z","p":0.3286,"s":"up"},{"t":"H","d":"2022-05-14T14:00:00Z","p":0.3286,"s":"dim"},{"t":"0.2525","d":"2022-05-16T10:00:00Z","p":0.3286,"s":"up"},{"t":"L","d":"2022-05-27T10:00:00Z","p":0.3286,"s":"dim"},{"t":"0.2285","d":"2022-05-28T22:00:00Z","p":0.3286,"s":"up"},{"t":"C","d":"2022-06-08T14:00:00Z","p":0.3286,"s":"dim"},{"t":"0.2461","d":"2022-06-10T07:00:00Z","p":0.3286,"s":"up"},{"t":"+0.0175 (+7.66%)","d":"2022-06-20T22:00:00Z","p":0.3286,"s":"up"},{"t":"Vol","d":"2022-03-19T08:00:00Z","p":0.2905,"s":"dim"},{"t":"328.935M","d":"2022-03-25T07:00:00Z","p":0.2905,"s":"vol"},{"t":"USDT","d":"2022-10-05T10:00:00Z","p":0.3344,"s":"dim"}]},
 "mark":{"type":"text","align":"left","baseline":"middle"},
 "encoding":{"x":{"field":"d"},"y":{"field":"p"},"text":{"field":"t"},
 "color":{"field":"s","type":"nominal","legend":null,"scale":{"domain":["dim","up","vol"],"range":["#14161f","#0a8a74","#1e9488"]}}}},
{"data":{"name":"daily"},"mark":{"type":"rule","strokeWidth":1},
 "encoding":{"x":{"field":"d"},"y":{"field":"h"},"y2":{"field":"l"},
 "color":{"condition":{"test":"datum.c>=datum.o","value":"#089981"},"value":"#f23645"}}},
{"data":{"name":"daily"},"mark":{"type":"bar","size":4.4},
 "encoding":{"x":{"field":"d"},"y":{"field":"o"},"y2":{"field":"c"},
 "color":{"condition":{"test":"datum.c>=datum.o","value":"#089981"},"value":"#f23645"}}},
{"data":{"values":[{"p":0.2461}]},"mark":{"type":"rule","strokeWidth":1,"strokeDash":[1,3],"color":"#089981"},
 "encoding":{"x":{"datum":{"year":2022,"month":"mar","date":17,"hours":12,"minutes":30,"utc":true}},"x2":{"datum":{"year":2022,"month":"oct","date":3,"utc":true}},"y":{"field":"p"}}},
{"data":{"values":[{"p":0.3369},{"p":0.2578},{"p":0.1816}]},"mark":{"type":"rule","strokeWidth":2.6,"color":"#2962ff"},
 "encoding":{"x":{"datum":{"year":2022,"month":"mar","date":17,"hours":12,"minutes":30,"utc":true}},"x2":{"datum":{"year":2022,"month":"oct","date":3,"utc":true}},"y":{"field":"p"}}},
{"data":{"values":[{"d":"2022-08-11","p":0.15},{"d":"2022-09-19","p":0.2617}]},"mark":{"type":"line","strokeWidth":2.6,"color":"#2962ff"},
 "encoding":{"x":{"field":"d"},"y":{"field":"p"}}},
{"data":{"values":[{"d":"2022-10-03","a":0.3564,"b":0.3173}]},"mark":{"type":"rule","strokeWidth":2,"color":"#2962ff"},
 "encoding":{"x":{"field":"d"},"y":{"field":"a"},"y2":{"field":"b"}}},
{"data":{"values":[{"p":0.1778},{"p":0.2846}]},"mark":{"type":"rule","strokeWidth":26,"color":"#2962ff"},
 "encoding":{"x":{"datum":{"year":2022,"month":"oct","date":3,"utc":true}},"x2":{"datum":{"year":2022,"month":"oct","date":15,"hours":17,"utc":true}},"y":{"field":"p"}}},
{"data":{"values":[{"p":0.2302}]},"mark":{"type":"rule","strokeWidth":47.7,"color":"#089981"},
 "encoding":{"x":{"datum":{"year":2022,"month":"oct","date":3,"utc":true}},"x2":{"datum":{"year":2022,"month":"oct","date":18,"hours":12,"utc":true}},"y":{"field":"p"}}},
{"data":{"values":[{"p":0.088}]},"mark":{"type":"rule","strokeWidth":27,"color":"#26a69a"},
 "encoding":{"x":{"datum":{"year":2022,"month":"oct","date":3,"utc":true}},"x2":{"datum":{"year":2022,"month":"oct","date":19,"hours":12,"utc":true}},"y":{"field":"p"}}},
{"data":{"values":[{"t":"0.2578","p":0.2846,"s":"w"},{"t":"0.2461","p":0.2451,"s":"w"},{"t":"10:45:27","p":0.2149,"s":"f"},{"t":"0.1816","p":0.1778,"s":"w"},{"t":"328.935M","p":0.088,"s":"w"}]},
 "mark":{"type":"text","align":"left","baseline":"middle","fontWeight":600,"fontSize":16.5},
 "encoding":{"x":{"datum":{"year":2022,"month":"oct","date":5,"hours":10,"utc":true}},"y":{"field":"p"},"text":{"field":"t"},
 "color":{"field":"s","type":"nominal","legend":null,"scale":{"domain":["w","f"],"range":["#ffffff","#b5e0d8"]}}}}
]
},
{
"width":1309,"height":106,"view":{"fill":"#000000","stroke":"#b2b5be"},
"encoding":{
"x":{"type":"temporal","scale":{"type":"utc","domain":["2022-03-17T12:30:00Z","2022-10-20T15:00:00Z"]},"axis":{"grid":true,"gridColor":"#0b0c12","labels":false,"ticks":false,"domain":false,"title":null,"tickCount":{"interval":"month"}}},
"y":{"type":"quantitative","scale":{"domain":[59.27,65.05]},"axis":null}
},
"resolve":{"scale":{"color":"independent"}},
"layer":[
{"data":{"values":[{"t":"OBV (SMA, 5)","d":"2022-03-19T08:00:00Z","p":63.75,"s":"dim"},{"t":"63.135B","d":"2022-04-07T18:00:00Z","p":63.75,"s":"blue"},{"t":"65B","d":"2022-10-05T10:00:00Z","p":64.87,"s":"dim"},{"t":"62.5B","d":"2022-10-05T10:00:00Z","p":62.36,"s":"dim"},{"t":"60B","d":"2022-10-05T10:00:00Z","p":60,"s":"dim"}]},
 "mark":{"type":"text","align":"left","baseline":"middle"},
 "encoding":{"x":{"field":"d"},"y":{"field":"p"},"text":{"field":"t"},
 "color":{"field":"s","type":"nominal","legend":null,"scale":{"domain":["dim","blue"],"range":["#14161f","#2962ff"]}}}},
{"data":{"name":"daily"},"mark":{"type":"line","strokeWidth":1.3,"color":"#2962ff","clip":true},
 "encoding":{"x":{"field":"d"},"y":{"field":"b"}}},
{"data":{"values":[{"p":63.135}]},"mark":{"type":"rule","strokeWidth":26.7,"color":"#2962ff"},
 "encoding":{"x":{"datum":{"year":2022,"month":"oct","date":3,"utc":true}},"x2":{"datum":{"year":2022,"month":"oct","date":17,"hours":14,"utc":true}},"y":{"field":"p"}}},
{"data":{"values":[{"t":"63.135B","p":63.135}]},"mark":{"type":"text","align":"left","baseline":"middle","fontWeight":600,"fontSize":16.5,"color":"#ffffff"},
 "encoding":{"x":{"datum":{"year":2022,"month":"oct","date":5,"hours":10,"utc":true}},"y":{"field":"p"},"text":{"field":"t"}}}
]
},
{
"width":1309,"height":106,"view":{"fill":"#000000","stroke":"#b2b5be"},
"encoding":{
"x":{"type":"temporal","scale":{"type":"utc","domain":["2022-03-17T12:30:00Z","2022-10-20T15:00:00Z"]},"axis":{"grid":true,"gridColor":"#0b0c12","labels":false,"ticks":false,"domain":false,"title":null,"tickCount":{"interval":"month"}}},
"y":{"type":"quantitative","scale":{"domain":[-1.65,59.5]},"axis":null}
},
"resolve":{"scale":{"color":"independent"}},
"layer":[
{"data":{"values":[{"t":"DMI (14, 14)","d":"2022-03-19T08:00:00Z","p":45.65,"s":"dim"},{"t":"24.5002","d":"2022-04-06T06:00:00Z","p":45.65,"s":"blue"},{"t":"23.1064","d":"2022-04-18T17:00:00Z","p":45.65,"s":"green"},{"t":"13.7453","d":"2022-05-01T00:00:00Z","p":45.65,"s":"red"},{"t":"40.0000","d":"2022-10-05T10:00:00Z","p":39.5,"s":"dim"}]},
 "mark":{"type":"text","align":"left","baseline":"middle"},
 "encoding":{"x":{"field":"d"},"y":{"field":"p"},"text":{"field":"t"},
 "color":{"field":"s","type":"nominal","legend":null,"scale":{"domain":["dim","blue","green","red"],"range":["#14161f","#2962ff","#089981","#f23645"]}}}},
{"data":{"name":"dmi"},"mark":{"type":"line","strokeWidth":1.3,"clip":true},
 "encoding":{"x":{"field":"d"},"y":{"field":"x"},
 "color":{"field":"s","type":"nominal","legend":null,"scale":{"domain":["+DI","-DI","ADX"],"range":["#2962ff","#089981","#f23645"]}}}},
{"data":{"values":[{"p":19.5}]},"mark":{"type":"rule","strokeWidth":2.8,"color":"#2962ff"},
 "encoding":{"x":{"datum":{"year":2022,"month":"may","date":30,"utc":true}},"x2":{"datum":{"year":2022,"month":"oct","date":3,"utc":true}},"y":{"field":"p"}}},
{"data":{"values":[{"p":1.4},{"p":24.5}]},"mark":{"type":"rule","strokeWidth":26,"color":"#2962ff","clip":true},
 "encoding":{"x":{"datum":{"year":2022,"month":"oct","date":3,"utc":true}},"x2":{"datum":{"year":2022,"month":"oct","date":17,"hours":14,"utc":true}},"y":{"field":"p"}}},
{"data":{"values":[{"p":9.5}]},"mark":{"type":"rule","strokeWidth":26.4,"color":"#089981"},
 "encoding":{"x":{"datum":{"year":2022,"month":"oct","date":3,"utc":true}},"x2":{"datum":{"year":2022,"month":"oct","date":17,"hours":14,"utc":true}},"y":{"field":"p"}}},
{"data":{"values":[{"t":"24.5002","p":24.5},{"t":"23.1064","p":9.5}]},"mark":{"type":"text","align":"left","baseline":"middle","fontWeight":600,"fontSize":16.5,"color":"#ffffff"},
 "encoding":{"x":{"datum":{"year":2022,"month":"oct","date":5,"hours":10,"utc":true}},"y":{"field":"p"},"text":{"field":"t"}}}
]
},
{
"width":1309,"height":147,"view":{"fill":"#000000","stroke":"#b2b5be"},
"encoding":{
"x":{"type":"temporal","scale":{"type":"utc","domain":["2022-03-17T12:30:00Z","2022-10-20T15:00:00Z"]},"axis":{"grid":true,"gridColor":"#0b0c12","labels":true,"ticks":false,"domain":false,"title":null,"format":"%b","tickCount":{"interval":"month"},"labelColor":"#14161f","labelFontSize":17,"labelBaseline":"middle","labelPadding":-19,"labelFlush":false,"labelOverlap":false}},
"y":{"type":"quantitative","scale":{"domain":[-11.1,90.2]},"axis":null}
},
"resolve":{"scale":{"color":"independent"}},
"layer":[
{"data":{"values":[{"lo":30,"hi":70}]},"mark":{"type":"rect","color":"#0e0b18"},
 "encoding":{"x":{"datum":{"year":2022,"month":"mar","date":17,"hours":12,"minutes":30,"utc":true}},"x2":{"datum":{"year":2022,"month":"oct","date":3,"utc":true}},"y":{"field":"lo"},"y2":{"field":"hi"}}},
{"data":{"values":[{"p":70},{"p":50},{"p":30}]},"mark":{"type":"rule","strokeWidth":1,"strokeDash":[5,5],"color":"#787b86"},
 "encoding":{"x":{"datum":{"year":2022,"month":"mar","date":17,"hours":12,"minutes":30,"utc":true}},"x2":{"datum":{"year":2022,"month":"oct","date":3,"utc":true}},"y":{"field":"p"}}},
{"data":{"values":[{"t":"RSI (14, close, SMA, 14, 2)","d":"2022-03-19T08:00:00Z","p":73.7,"s":"dim"},{"t":"61.55","d":"2022-04-25T08:00:00Z","p":73.7,"s":"purple"},{"t":"55.34","d":"2022-05-04T12:00:00Z","p":73.7,"s":"yellow"},{"t":"∅ ∅","d":"2022-05-13T22:00:00Z","p":73.7,"s":"dim"},{"t":"80.00","d":"2022-10-05T10:00:00Z","p":79.7,"s":"dim"}]},
 "mark":{"type":"text","align":"left","baseline":"middle"},
 "encoding":{"x":{"field":"d"},"y":{"field":"p"},"text":{"field":"t"},
 "color":{"field":"s","type":"nominal","legend":null,"scale":{"domain":["dim","purple","yellow"],"range":["#14161f","#7e57c2","#ffeb3b"]}}}},
{"data":{"name":"daily"},"mark":{"type":"line","strokeWidth":1.3,"color":"#7e57c2","clip":true},
 "encoding":{"x":{"field":"d"},"y":{"field":"r"}}},
{"data":{"name":"rsima"},"mark":{"type":"line","strokeWidth":1.5,"color":"#ffeb3b","clip":true},
 "encoding":{"x":{"field":"d"},"y":{"field":"m"}}},
{"data":{"values":[{"p":61.7}]},"mark":{"type":"rule","strokeWidth":26,"color":"#7e57c2"},
 "encoding":{"x":{"datum":{"year":2022,"month":"oct","date":3,"utc":true}},"x2":{"datum":{"year":2022,"month":"oct","date":14,"hours":5,"utc":true}},"y":{"field":"p"}}},
{"data":{"values":[{"p":43.8}]},"mark":{"type":"rule","strokeWidth":26,"color":"#ffeb3b"},
 "encoding":{"x":{"datum":{"year":2022,"month":"oct","date":3,"utc":true}},"x2":{"datum":{"year":2022,"month":"oct","date":14,"hours":5,"utc":true}},"y":{"field":"p"}}},
{"data":{"values":[{"t":"61.55","p":61.7,"s":"w"},{"t":"55.34","p":43.8,"s":"k"}]},"mark":{"type":"text","align":"left","baseline":"middle","fontWeight":600,"fontSize":16.5},
 "encoding":{"x":{"datum":{"year":2022,"month":"oct","date":5,"hours":10,"utc":true}},"y":{"field":"p"},"text":{"field":"t"},
 "color":{"field":"s","type":"nominal","legend":null,"scale":{"domain":["w","k"],"range":["#ffffff","#000000"]}}}}
]
},
{
"width":1309,"height":54,"view":{"stroke":null},
"encoding":{
"x":{"type":"temporal","scale":{"type":"utc","domain":["2022-03-17T12:30:00Z","2022-10-20T15:00:00Z"]},"axis":null},
"y":{"type":"quantitative","scale":{"domain":[0,1]},"axis":null}
},
"layer":[
{"data":{"values":[{"d":"2022-03-19T19:00:00Z","p":0.51}]},
 "mark":{"type":"point","filled":true,"opacity":1,"size":841,"color":"#131722","shape":"M-.211 .507H-.606V-.113H-1V-.507H-.211ZM.577 .507H.127L.549 -.507H1ZM-.098 -.282a.225 .225 0 1 0 .45 0a.225 .225 0 1 0 -.45 0Z"},
 "encoding":{"x":{"field":"d"},"y":{"field":"p"}}},
{"data":{"values":[{"d":"2022-03-23T04:00:00Z","p":0.47,"t":"TradingView"}]},
 "mark":{"type":"text","align":"left","baseline":"middle","fontSize":18.3,"color":"#131722"},
 "encoding":{"x":{"field":"d"},"y":{"field":"p"},"text":{"field":"t"}}}
]
}
]
}
